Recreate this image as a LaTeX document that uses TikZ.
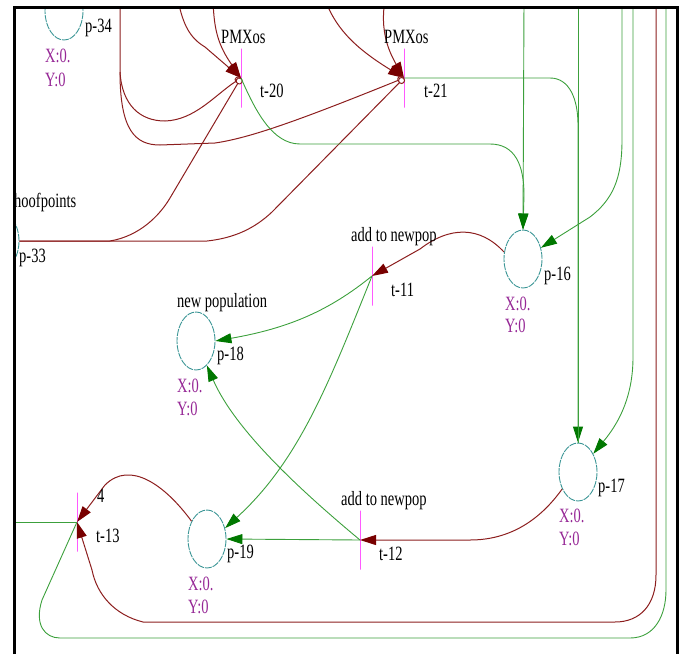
\documentclass[tikz,border=0pt]{standalone}
\usepackage{fontspec}
\setmainfont{Liberation Serif}
\usepackage{graphicx}
\usetikzlibrary{arrows.meta,shapes.geometric}
\definecolor{mar}{RGB}{140,30,30}
\definecolor{marhead}{RGB}{120,0,0}
\definecolor{grn}{RGB}{60,160,60}
\definecolor{grnhead}{RGB}{0,120,0}
\definecolor{tealc}{RGB}{60,150,150}
\definecolor{purp}{RGB}{150,40,150}
\definecolor{mag}{RGB}{255,0,255}
\newcommand\vs[1]{\scalebox{1}[1.4]{#1}}
\begin{document}
\begin{tikzpicture}[x=1pt,y=-1pt,
  every node/.style={font=\fontsize{14.5}{16}\selectfont},
  place/.style={draw=tealc, ellipse, minimum width=38pt, minimum height=58pt, inner sep=0pt, line width=0.9pt, dash pattern=on 7pt off 1pt},
  tbar/.style={draw=mag, minimum width=0pt, minimum height=59pt, inner sep=0pt, line width=0.8pt},
  txt/.style={anchor=base west, inner sep=0pt, text=black},
  xy/.style={anchor=base west, inner sep=0pt, text=purp},
  rarc/.style={draw=mar, line width=1pt},
  garc/.style={draw=grn, line width=0.9pt},
  rhead/.style={-{Triangle[length=16pt,width=10pt,fill=marhead,color=marhead]}},
  ghead/.style={-{Triangle[length=16pt,width=10pt,fill=grnhead,color=grnhead]}},
  inh/.style={-{Circle[open,length=7pt,color=mar,fill=white]}},
]
\useasboundingbox (0,0) rectangle (683,654);
\begin{scope}
\clip (14,7) rectangle (677,654);
% places
\node[place] (p34) at (64,11) {};
\node[place] (p33) at (0,241) {};
\node[place] (p16) at (523,259) {};
\node[place] (p18) at (196,341) {};
\node[place] (p19) at (207,539) {};
\node[place] (p17) at (578,472) {};
% transitions
\node[tbar] (t20) at (241,78) {};
\node[tbar] (t21) at (404,78) {};
\node[tbar] (t11) at (372,276) {};
\node[tbar] (t12) at (360,540) {};
\node[tbar] (t13) at (77,522) {};
% free ends
\coordinate (a178) at (178,0);
\coordinate (a213) at (213,0);
\coordinate (a325) at (325,0);
\coordinate (a385) at (385,0);
\coordinate (a120) at (120,0);
\coordinate (a524) at (524,0);
\coordinate (a578) at (578,0);
\coordinate (a622) at (622,0);
\coordinate (a633) at (633,0);
\coordinate (a656) at (656,0);
\coordinate (a666) at (666,0);
\coordinate (l522) at (0,522);
% maroon arcs
\draw[rarc,rhead] (a178) .. controls (183,25) and (190,38) .. (205,47) -- (t20.center);
\draw[rarc,rhead] (a213) .. controls (214,30) and (218,45) .. (t20.center);
\draw[rarc,rhead] (a325) .. controls (335,25) and (350,45) .. (t21.center);
\draw[rarc,rhead] (a385) .. controls (380,30) and (388,50) .. (t21.center);
\draw[rarc,inh] (a120) -- (120,72) .. controls (122,105) and (140,121) .. (165,121) .. controls (195,120) and (215,95) .. (t20.center);
\draw[rarc,inh] (120,72) .. controls (120,130) and (135,145) .. (160,145) -- (215,143) .. controls (250,138) and (300,120) .. (t21.center);
\draw[rarc,inh] (p33.east) -- (110,241) .. controls (140,236) and (160,215) .. (170,198) -- (t20.center);
\draw[rarc,inh] (p33.east) -- (207,241) .. controls (235,238) and (255,228) .. (272,212) -- (t21.center);
\draw[rarc,rhead] (p16.160) .. controls (480,226) and (450,226) .. (420,249) -- (t11.center);
\draw[rarc,rhead] (p17.-133) .. controls (540,520) and (510,540) .. (470,540) -- (t12.center);
\draw[rarc,rhead] (p19.131) .. controls (165,485) and (130,460) .. (105,485) -- (t13.center);
\draw[rarc,rhead] (a656) -- (656,575) .. controls (656,605) and (640,622) .. (615,622) -- (143,622) .. controls (115,615) and (97,595) .. (92,570) -- (t13.center);
% green arcs
\draw[garc,ghead] (t20.center) .. controls (255,110) and (272,144) .. (300,144) -- (490,144) .. controls (515,144) and (524,165) .. (524,195) -- (p16.north);
\draw[garc,ghead] (a524) -- (p16.north);
\draw[garc,ghead] (t21.center) -- (550,78) .. controls (570,78) and (578,100) .. (578,125) -- (p17.north);
\draw[garc] (a578) -- (p17.north);
\draw[garc,ghead] (a622) -- (622,140) .. controls (622,180) and (612,200) .. (590,217) -- (p16.32);
\draw[garc,ghead] (a633) -- (633,357) .. controls (633,395) and (620,420) .. (607,437) -- (p17.50);
\draw[garc,ghead] (t11.center) .. controls (330,310) and (290,328) .. (p18.east);
\draw[garc,ghead] (t11.center) .. controls (330,380) and (300,460) .. (p19.31);
\draw[garc,ghead] (t12.center) -- (p19.east);
\draw[garc,ghead] (t12.center) .. controls (300,490) and (235,430) .. (p18.-66);
\draw[garc] (t13.center) -- (l522);
\draw[garc] (t13.center) -- (42,600) .. controls (34,625) and (45,638) .. (60,638) -- (630,638) .. controls (655,638) and (666,615) .. (666,590) -- (a666);
% labels
\node[txt] (lt20a) at (221,43) {\vs{PMXos}};
\node[txt] (lt21a) at (384,43) {\vs{PMXos}};
\node[txt] (lt20) at (260,97) {\vs{t-20}};
\node[txt] (lt21) at (424,97) {\vs{t-21}};
\node[txt] (lt11a) at (351,241) {\vs{add to newpop}};
\node[txt] (lt11) at (391,296) {\vs{t-11}};
\node[txt] (lt12a) at (341,505) {\vs{add to newpop}};
\node[txt] (lt12) at (379,560) {\vs{t-12}};
\node[txt] (lw4) at (97,502) {\vs{4}};
\node[txt] (lt13) at (96,542) {\vs{t-13}};
\node[txt] (lp34) at (85,32) {\vs{p-34}};
\node[xy] (x34) at (45,62) {\vs{X:0.}};
\node[xy] (y34) at (45,86) {\vs{Y:0}};
\node[txt] (lp33a) at (14,207) {\vs{hoofpoints}};
\node[txt] (lp33) at (19,262) {\vs{p-33}};
\node[txt] (lp16) at (544,280) {\vs{p-16}};
\node[xy] (x16) at (505,310) {\vs{X:0.}};
\node[xy] (y16) at (505,332) {\vs{Y:0}};
\node[txt] (lp18a) at (177,307) {\vs{new population}};
\node[txt] (lp18) at (217,360) {\vs{p-18}};
\node[xy] (x18) at (177,392) {\vs{X:0.}};
\node[xy] (y18) at (177,415) {\vs{Y:0}};
\node[txt] (lp19) at (227,558) {\vs{p-19}};
\node[xy] (x19) at (188,590) {\vs{X:0.}};
\node[xy] (y19) at (188,613) {\vs{Y:0}};
\node[txt] (lp17) at (598,492) {\vs{p-17}};
\node[xy] (x17) at (559,522) {\vs{X:0.}};
\node[xy] (y17) at (559,545) {\vs{Y:0}};
\end{scope}
\draw[line width=3pt] (14,654) -- (14,7) -- (677,7) -- (677,654);
\end{tikzpicture}
\end{document}
